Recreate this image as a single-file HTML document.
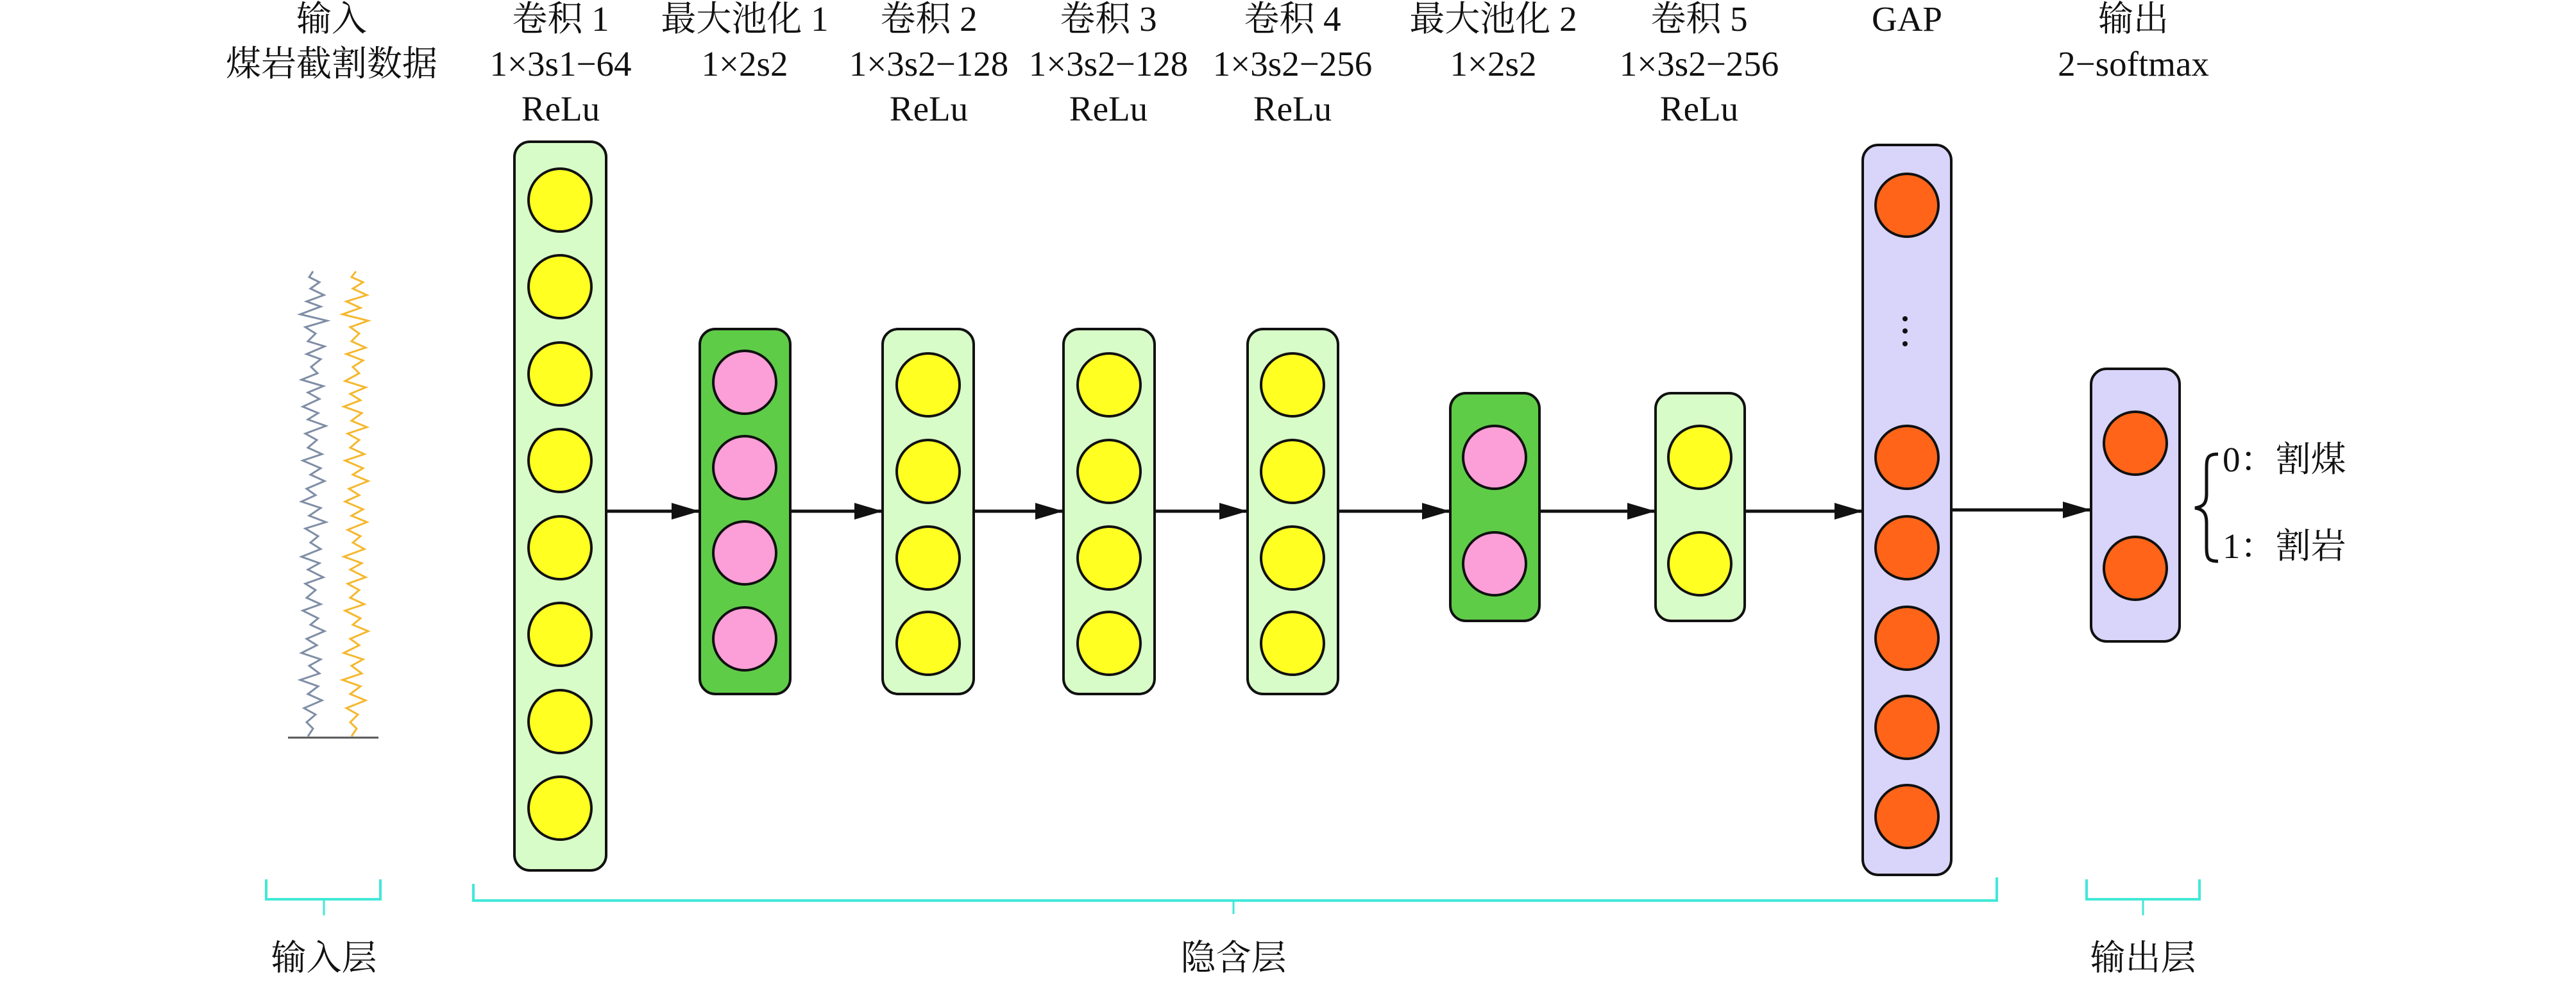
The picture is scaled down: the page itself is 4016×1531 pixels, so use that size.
<!DOCTYPE html>
<html><head><meta charset="utf-8"><style>
html,body{margin:0;padding:0;background:#fff;}
svg{display:block;}
text{font-family:"Liberation Serif","Noto Serif CJK SC",serif;font-size:55px;fill:#111;text-anchor:middle;}
</style></head><body>
<svg width="4016" height="1531" viewBox="0 0 4016 1531" xmlns="http://www.w3.org/2000/svg">
<defs>
<marker id="ah" markerWidth="44" markerHeight="26" refX="44" refY="13" orient="auto" markerUnits="userSpaceOnUse" viewBox="0 0 44 26">
<path d="M0,0 L44,13 L0,26 z" fill="#111"/></marker>
</defs>
<g>
<text x="517" y="48">输入</text>
<text x="517" y="118">煤岩截割数据</text>
<text x="874" y="48">卷积 1</text><text x="874" y="118">1×3s1−64</text><text x="874" y="188">ReLu</text>
<text x="1161" y="48">最大池化 1</text><text x="1161" y="118">1×2s2</text>
<text x="1448" y="48">卷积 2</text><text x="1448" y="118">1×3s2−128</text><text x="1448" y="188">ReLu</text>
<text x="1728" y="48">卷积 3</text><text x="1728" y="118">1×3s2−128</text><text x="1728" y="188">ReLu</text>
<text x="2015" y="48">卷积 4</text><text x="2015" y="118">1×3s2−256</text><text x="2015" y="188">ReLu</text>
<text x="2328" y="48">最大池化 2</text><text x="2328" y="118">1×2s2</text>
<text x="2649" y="48">卷积 5</text><text x="2649" y="118">1×3s2−256</text><text x="2649" y="188">ReLu</text>
<text x="2973" y="48">GAP</text>
<text x="3326" y="48">输出</text><text x="3326" y="118">2−softmax</text>
</g>
<polyline fill="none" stroke="#7f8ea6" stroke-width="3" points="488,423 482,432 498,440 484,450 505,460 478,470 500,478 468,490 510,500 476,510 492,520 480,532 506,540 478,552 500,560 485,572 495,582 470,592 504,602 480,612 498,622 472,634 496,644 480,654 508,664 476,676 494,686 480,698 502,708 472,718 500,730 484,740 506,750 478,762 492,772 470,782 500,792 482,804 508,814 476,824 496,836 484,846 500,856 470,868 498,878 480,888 504,900 476,910 492,920 478,932 500,942 472,952 496,964 484,974 506,984 478,996 494,1006 470,1018 500,1028 482,1038 498,1050 468,1060 496,1070 480,1082 502,1092 474,1104 492,1114 478,1126 488,1136 480,1148"/>
<polyline fill="none" stroke="#f5b82e" stroke-width="3" points="555,423 548,432 566,440 550,450 572,460 540,470 562,480 534,490 574,500 546,510 560,520 548,532 570,542 540,552 566,562 550,572 560,582 538,594 570,604 546,614 562,624 536,634 564,644 548,656 572,666 542,676 560,686 546,698 568,708 538,718 566,730 550,740 574,750 544,762 560,772 538,782 566,794 548,804 572,814 542,826 562,836 550,846 568,856 536,868 564,878 546,888 570,900 542,910 560,920 546,932 568,942 538,952 562,964 550,974 574,984 546,996 560,1006 536,1018 566,1028 548,1038 564,1050 534,1060 562,1070 546,1082 570,1092 540,1104 558,1114 546,1126 556,1136 548,1148"/>
<line x1="449" y1="1150" x2="590" y2="1150" stroke="#555" stroke-width="3"/>

<g stroke="#111" stroke-width="4">
<rect x="802" y="221" width="143" height="1136" rx="24" fill="#d8fcc8"/>
<rect x="1091" y="513" width="141" height="569" rx="24" fill="#5fcc48"/>
<rect x="1376" y="513" width="142" height="569" rx="24" fill="#d8fcc8"/>
<rect x="1658" y="513" width="142" height="569" rx="24" fill="#d8fcc8"/>
<rect x="1945" y="513" width="141" height="569" rx="24" fill="#d8fcc8"/>
<rect x="2261" y="613" width="139" height="355" rx="24" fill="#5fcc48"/>
<rect x="2581" y="613" width="139" height="355" rx="24" fill="#d8fcc8"/>
<rect x="2904" y="226" width="138" height="1138" rx="24" fill="#d9d4fa"/>
<rect x="3260" y="575" width="138" height="425" rx="24" fill="#d9d4fa"/>
</g>
<g stroke="#111" stroke-width="4" fill="#ffff22">
<circle cx="873" cy="312" r="49"/><circle cx="873" cy="447" r="49"/><circle cx="873" cy="583" r="49"/><circle cx="873" cy="718" r="49"/>
<circle cx="873" cy="854" r="49"/><circle cx="873" cy="989" r="49"/><circle cx="873" cy="1125" r="49"/><circle cx="873" cy="1260" r="49"/>
<circle cx="1447" cy="600" r="49"/><circle cx="1447" cy="735" r="49"/><circle cx="1447" cy="870" r="49"/><circle cx="1447" cy="1003" r="49"/>
<circle cx="1729" cy="600" r="49"/><circle cx="1729" cy="735" r="49"/><circle cx="1729" cy="870" r="49"/><circle cx="1729" cy="1003" r="49"/>
<circle cx="2015" cy="600" r="49"/><circle cx="2015" cy="735" r="49"/><circle cx="2015" cy="870" r="49"/><circle cx="2015" cy="1003" r="49"/>
<circle cx="2650" cy="713" r="49"/><circle cx="2650" cy="879" r="49"/>
</g>
<g stroke="#111" stroke-width="4" fill="#fc9ed8">
<circle cx="1161" cy="596" r="49"/><circle cx="1161" cy="729" r="49"/><circle cx="1161" cy="862" r="49"/><circle cx="1161" cy="996" r="49"/>
<circle cx="2330" cy="713" r="49"/><circle cx="2330" cy="879" r="49"/>
</g>
<g stroke="#111" stroke-width="4" fill="#ff6418">
<circle cx="2973" cy="320" r="49"/><circle cx="2973" cy="713" r="49"/><circle cx="2973" cy="854" r="49"/><circle cx="2973" cy="995" r="49"/><circle cx="2973" cy="1134" r="49"/><circle cx="2973" cy="1273" r="49"/>
<circle cx="3329" cy="691" r="49"/><circle cx="3329" cy="886" r="49"/>
</g>
<g fill="#111"><circle cx="2970" cy="497" r="4"/><circle cx="2970" cy="516" r="4"/><circle cx="2970" cy="536" r="4"/></g>

<g stroke="#111" stroke-width="5" marker-end="url(#ah)">
<line x1="945" y1="797" x2="1091" y2="797"/>
<line x1="1232" y1="797" x2="1376" y2="797"/>
<line x1="1518" y1="797" x2="1658" y2="797"/>
<line x1="1800" y1="797" x2="1945" y2="797"/>
<line x1="2086" y1="797" x2="2261" y2="797"/>
<line x1="2400" y1="797" x2="2581" y2="797"/>
<line x1="2720" y1="797" x2="2904" y2="797"/>
<line x1="3042" y1="795" x2="3260" y2="795"/>
</g>

<path d="M3458,708 C3440,708 3440,715 3440,735 L3440,770 C3440,785 3435,790 3422,792 C3435,794 3440,800 3440,815 L3440,852 C3440,870 3442,875 3458,875" fill="none" stroke="#111" stroke-width="5"/>
<text x="3465" y="735" style="text-anchor:start">0：割煤</text>
<text x="3465" y="870" style="text-anchor:start">1：割岩</text>

<g stroke="#40e8d8" fill="none">
<polyline points="415,1371 415,1402 593,1402 593,1371" stroke-width="4"/>
<line x1="505" y1="1402" x2="505" y2="1427" stroke-width="3"/>
<polyline points="738,1378 738,1404 3113,1404 3113,1368" stroke-width="4"/>
<line x1="1923" y1="1404" x2="1923" y2="1425" stroke-width="3"/>
<polyline points="3253,1371 3253,1402 3429,1402 3429,1371" stroke-width="4"/>
<line x1="3341" y1="1402" x2="3341" y2="1427" stroke-width="3"/>
</g>
<text x="505" y="1512">输入层</text>
<text x="1923" y="1512">隐含层</text>
<text x="3341" y="1512">输出层</text>
</svg>
</body></html>
